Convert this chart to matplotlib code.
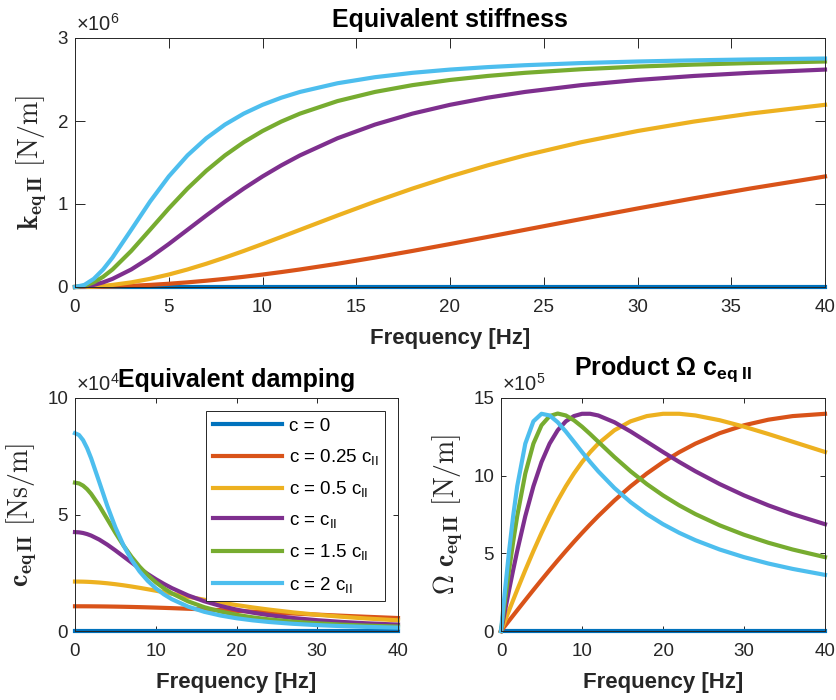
import matplotlib
matplotlib.use('Agg')
import numpy as np
import matplotlib.pyplot as plt
from matplotlib.ticker import FuncFormatter

plt.rcParams['font.family'] = ['Liberation Sans', 'DejaVu Sans']
plt.rcParams['mathtext.fontset'] = 'custom'
plt.rcParams['mathtext.rm'] = 'Liberation Sans'
plt.rcParams['mathtext.it'] = 'Liberation Sans:italic'
plt.rcParams['mathtext.bf'] = 'Liberation Sans:bold'

# ---------------- data ----------------
freq = [0, 0.5, 1, 1.5, 2, 3, 4, 5, 6, 7, 8, 9, 10, 11, 12, 14, 16, 18, 20,
        22, 24, 27, 30, 33, 36, 40]

series_labels = ['c = 0',
                 r'c = 0.25 c$_{\mathrm{II}}$',
                 r'c = 0.5 c$_{\mathrm{II}}$',
                 r'c = c$_{\mathrm{II}}$',
                 r'c = 1.5 c$_{\mathrm{II}}$',
                 r'c = 2 c$_{\mathrm{II}}$']
colors = ['#0072BD', '#D95319', '#EDB120', '#7E2F8E', '#77AC30', '#4DBEEE']

# equivalent stiffness, x 1e6 N/m
k_c0 = [0, 0, 0, 0, 0, 0, 0, 0, 0, 0, 0, 0, 0, 0, 0, 0, 0, 0, 0, 0, 0, 0, 0, 0, 0, 0]
k_c025 = [0, 0.0004, 0.0016, 0.0036, 0.0063, 0.0142, 0.0252, 0.0391, 0.056, 0.0757, 0.098,
          0.1229, 0.1502, 0.1797, 0.2113, 0.28, 0.3549, 0.4345, 0.5176, 0.6029, 0.6892,
          0.8188, 0.946, 1.0688, 1.1859, 1.3317]
k_c05 = [0, 0.0016, 0.0063, 0.0142, 0.0252, 0.056, 0.098, 0.1502, 0.2113, 0.28, 0.3549,
         0.4345, 0.5176, 0.6029, 0.6892, 0.8615, 1.0284, 1.1859, 1.3317, 1.4651, 1.5859,
         1.7446, 1.8792, 1.9929, 2.0891, 2.195]
k_c1 = [0, 0.0063, 0.0252, 0.056, 0.098, 0.2113, 0.3549, 0.5176, 0.6892, 0.8615, 1.0284,
        1.1859, 1.3317, 1.4651, 1.5859, 1.792, 1.9571, 2.0891, 2.195, 2.2805, 2.3502,
        2.4322, 2.4944, 2.5426, 2.5805, 2.6195]
k_c15 = [0, 0.0142, 0.056, 0.1229, 0.2113, 0.4345, 0.6892, 0.946, 1.1859, 1.4, 1.5859,
         1.7446, 1.8792, 1.9929, 2.0891, 2.24, 2.3502, 2.4322, 2.4944, 2.5426, 2.5805,
         2.6236, 2.6554, 2.6794, 2.698, 2.7168]
k_c2 = [0, 0.0252, 0.098, 0.2113, 0.3549, 0.6892, 1.0284, 1.3317, 1.5859, 1.792, 1.9571,
        2.0891, 2.195, 2.2805, 2.3502, 2.4548, 2.5278, 2.5805, 2.6195, 2.6491, 2.6721,
        2.698, 2.7168, 2.7309, 2.7417, 2.7526]

# equivalent damping, x 1e4 Ns/m
c_c0 = [0, 0, 0, 0, 0, 0, 0, 0, 0, 0, 0, 0, 0, 0, 0, 0, 0, 0, 0, 0, 0, 0, 0, 0, 0, 0]
c_c025 = [1.061, 1.0608, 1.0604, 1.0597, 1.0586, 1.0556, 1.0515, 1.0462, 1.0398, 1.0323,
          1.0239, 1.0144, 1.0041, 0.9929, 0.9809, 0.9549, 0.9265, 0.8964, 0.8649, 0.8326,
          0.7998, 0.7507, 0.7026, 0.656, 0.6116, 0.5564]
c_c05 = [2.122, 2.1208, 2.1172, 2.1112, 2.1029, 2.0796, 2.0477, 2.0082, 1.9619, 1.9098,
         1.8531, 1.7927, 1.7298, 1.6651, 1.5997, 1.4691, 1.3426, 1.2233, 1.1127, 1.0117,
         0.9202, 0.7998, 0.6978, 0.6116, 0.5387, 0.4585]
c_c1 = [4.244, 4.2344, 4.2059, 4.1591, 4.0954, 3.9237, 3.7062, 3.4595, 3.1993, 2.9381,
        2.6852, 2.4465, 2.2255, 2.0234, 1.8403, 1.5278, 1.2775, 1.0775, 0.917, 0.7874,
        0.6818, 0.5575, 0.4632, 0.3902, 0.3327, 0.2736]
c_c15 = [6.366, 6.3337, 6.2387, 6.0865, 5.8855, 5.3782, 4.799, 4.2153, 3.6698, 3.183,
         2.7605, 2.3995, 2.0935, 1.8349, 1.6162, 1.2732, 1.0227, 0.8363, 0.6947, 0.5852,
         0.4991, 0.4009, 0.3287, 0.2741, 0.2319, 0.1892]
c_c2 = [8.488, 8.4117, 8.1908, 7.8474, 7.4123, 6.3987, 5.3705, 4.4509, 3.6806, 3.0557,
        2.5551, 2.155, 1.834, 1.5748, 1.3637, 1.0465, 0.825, 0.6655, 0.5472, 0.4573,
        0.3876, 0.3092, 0.2522, 0.2095, 0.1768, 0.1437]

# product Omega * c_eq, x 1e5 N/m
p_c0 = [0, 0, 0, 0, 0, 0, 0, 0, 0, 0, 0, 0, 0, 0, 0, 0, 0, 0, 0, 0, 0, 0, 0, 0, 0, 0]
p_c025 = [0, 0.3333, 0.6663, 0.9987, 1.3303, 1.9898, 2.6427, 3.2868, 3.92, 4.5406, 5.1466,
          5.7366, 6.309, 6.8626, 7.3962, 8.4, 9.3149, 10.138, 10.8689, 11.509, 12.0616,
          12.7365, 13.2433, 13.6026, 13.8354, 13.9834]
p_c05 = [0, 0.6663, 1.3303, 1.9898, 2.6427, 3.92, 5.1466, 6.309, 7.3962, 8.4, 9.3149,
         10.138, 10.8689, 11.509, 12.0616, 12.9231, 13.4979, 13.8354, 13.9834, 13.9849,
         13.8761, 13.5693, 13.1545, 12.6825, 12.1866, 11.5239]
p_c1 = [0, 1.3303, 2.6427, 3.92, 5.1466, 7.3962, 9.3149, 10.8689, 12.0616, 12.9231,
        13.4979, 13.8354, 13.9834, 13.9849, 13.8761, 13.44, 12.8438, 12.1866, 11.5239,
        10.8844, 10.2821, 9.4585, 8.7305, 8.0901, 7.5265, 6.8762]
p_c15 = [0, 1.9898, 3.92, 5.7366, 7.3962, 10.138, 12.0616, 13.2433, 13.8354, 14.0, 13.8761,
         13.5693, 13.1545, 12.6825, 12.1866, 11.2, 10.2821, 9.4585, 8.7305, 8.0901, 7.5265,
         6.8021, 6.196, 5.6837, 5.2461, 4.7545]
p_c2 = [0, 2.6427, 5.1466, 7.3962, 9.3149, 12.0616, 13.4979, 13.9834, 13.8761, 13.44,
        12.8438, 12.1866, 11.5239, 10.8844, 10.2821, 9.2056, 8.2946, 7.5265, 6.8762,
        6.3219, 5.8453, 5.2461, 4.7545, 4.3446, 3.9983, 3.6129]

k_series = [k_c0, k_c025, k_c05, k_c1, k_c15, k_c2]
c_series = [c_c0, c_c025, c_c05, c_c1, c_c15, c_c2]
p_series = [p_c0, p_c025, p_c05, p_c1, p_c15, p_c2]

x_ticks = [0, 10, 20, 30, 40]
x_ticks_top = [0, 5, 10, 15, 20, 25, 30, 35, 40]

# ---------------- figure ----------------
W, H = 836, 700
fig = plt.figure(figsize=(W / 100, H / 100), dpi=100)
AXC = '#262626'


def px_axes(x0, y0, x1, y1):
    return fig.add_axes([x0 / W, 1 - y1 / H, (x1 - x0) / W, (y1 - y0) / H])


ax1 = px_axes(75, 38, 825, 287)
ax2 = px_axes(75, 398, 398, 631)
ax3 = px_axes(501, 398, 825, 631)


def style(ax, ticklen, scale, exp, yticks, xticks):
    for s in ax.spines.values():
        s.set_color(AXC)
        s.set_linewidth(0.7)
    ax.tick_params(direction='in', top=True, right=True, length=ticklen,
                   width=0.7, color=AXC, labelcolor=AXC, labelsize=13.5)
    ax.tick_params(axis='x', pad=9)
    ax.tick_params(axis='y', pad=5)
    ax.set_xlim(0, 40)
    ax.set_xticks(xticks)
    ax.set_yticks([v * scale for v in yticks])
    ax.yaxis.set_major_formatter(FuncFormatter(lambda v, p: f'{v / scale:g}'))
    ax.annotate(r'$\times10^{%d}$' % exp, xy=(0, 1), xycoords='axes fraction',
                xytext=(0.5, 2), textcoords='offset points', ha='left', va='bottom',
                fontsize=14.5, color=AXC, zorder=1)
    ax.set_xlabel('Frequency [Hz]', fontsize=16, fontweight='bold', color=AXC,
                  labelpad=8)


def draw(ax, data, scale):
    handles = []
    for vals, col, lab in zip(data, colors, series_labels):
        h, = ax.plot(freq, np.array(vals) * scale, color=col, lw=3, label=lab,
                     clip_on=False)
        handles.append(h)
    return handles


draw(ax1, k_series, 1e6)
style(ax1, 7, 1e6, 6, [0, 1, 2, 3], x_ticks_top)
ax1.set_ylim(0, 3e6)
ax1.set_title('Equivalent stiffness', fontsize=18, fontweight='bold', pad=8)
ax1.set_ylabel(r'$\mathbf{k_{eq\,II}}\ [\mathrm{N/m}]$', fontsize=20,
               math_fontfamily='cm', color=AXC, labelpad=6)

handles = draw(ax2, c_series, 1e4)
style(ax2, 3.3, 1e4, 4, [0, 5, 10], x_ticks)
ax2.set_ylim(0, 10e4)
t2 = ax2.set_title('Equivalent damping', fontsize=18, fontweight='bold', pad=8)
t2.set_zorder(5)
ax2.set_ylabel(r'$\mathbf{c_{eq\,II}}\ [\mathrm{Ns/m}]$', fontsize=20,
               math_fontfamily='cm', color=AXC, labelpad=6)
leg = ax2.legend(handles=handles, loc='upper right', bbox_to_anchor=(0.96, 0.944),
                 borderaxespad=0, fontsize=13.5, frameon=True, fancybox=False,
                 framealpha=1, edgecolor=AXC, handlelength=3.7, handletextpad=0.35,
                 borderpad=0.35, labelspacing=0.66)
leg.get_frame().set_linewidth(0.7)

draw(ax3, p_series, 1e5)
style(ax3, 3.3, 1e5, 5, [0, 5, 10, 15], x_ticks)
ax3.set_ylim(0, 15e5)
ax3.set_title(r'Product $\mathbf{\Omega}$ c$_{\mathbf{eq\ II}}$', fontsize=18,
              fontweight='bold', pad=17)
ax3.set_ylabel(r'$\mathbf{\Omega\ c_{eq\,II}}\ [\mathrm{N/m}]$', fontsize=20,
               math_fontfamily='cm', color=AXC, labelpad=6)

fig.savefig('out.png', dpi=100)
